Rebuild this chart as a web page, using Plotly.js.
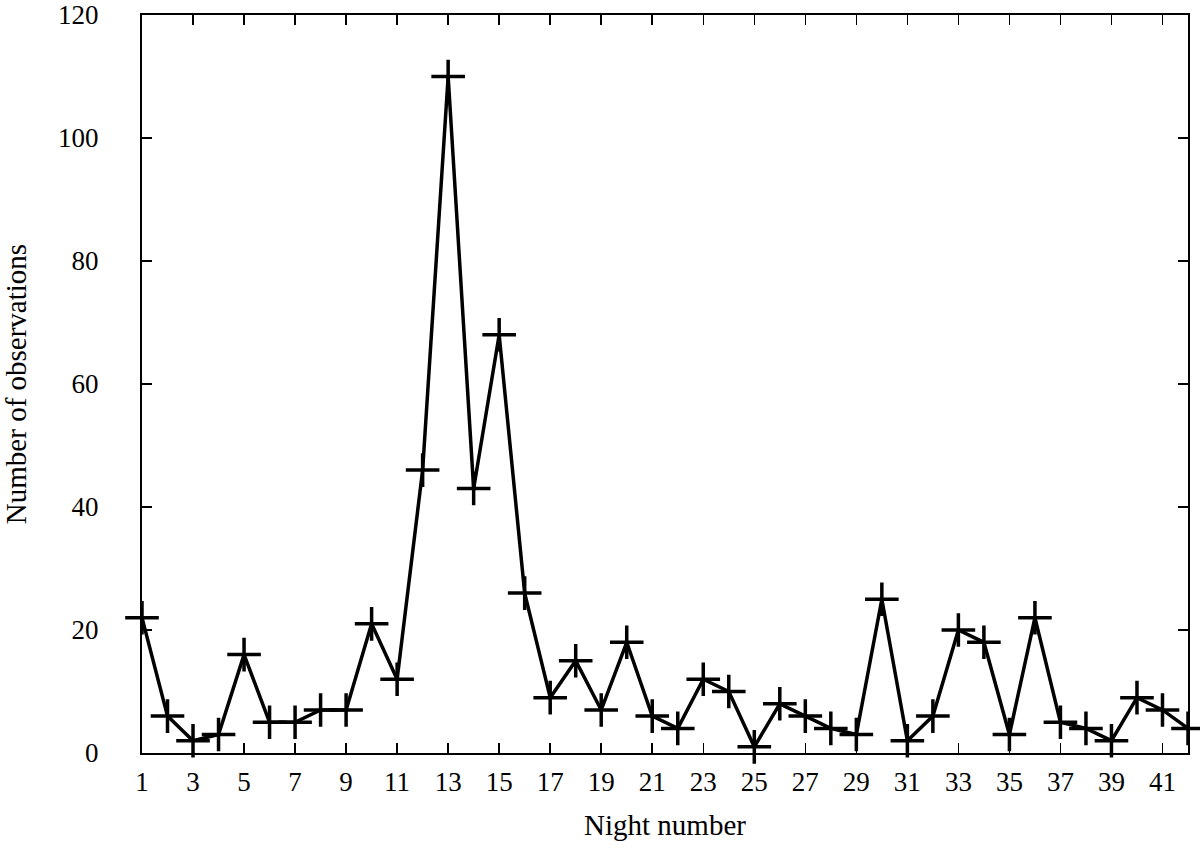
<!DOCTYPE html>
<html>
<head>
<meta charset="utf-8">
<script src="https://cdn.plot.ly/plotly-3.0.1.min.js"></script>
<style>body{margin:0;background:#fff;} #chart{width:1200px;height:852px;}</style>
</head>
<body>
<div id="chart"></div>
<script>
const nights = [1,2,3,4,5,6,7,8,9,10,11,12,13,14,15,16,17,18,19,20,21,22,23,24,25,26,27,28,29,30,31,32,33,34,35,36,37,38,39,40,41,42];
const observations = [22,6,2,3,16,5,5,7,7,21,12,46,110,43,68,26,9,15,7,18,6,4,12,10,1,8,6,4,3,25,2,6,20,18,3,22,5,4,2,9,7,4];
const xTicks = [1,3,5,7,9,11,13,15,17,19,21,23,25,27,29,31,33,35,37,39,41];
const yTicks = [0,20,40,60,80,100,120];

const fam = '"Liberation Serif", "Times New Roman", serif';
const tickFont = {family: fam, size: 27, color: '#000'};
const titleFont = {family: fam, size: 29, color: '#000'};

Plotly.newPlot('chart', [{
  x: nights, y: observations, type: 'scatter', mode: 'lines+markers',
  line: {color: '#000', width: 3.5},
  marker: {symbol: 'cross-thin-open', size: 24, color: '#000', line: {color: '#000', width: 3.5}},
  cliponaxis: false
}], {
  width: 1200, height: 852,
  margin: {l: 142, r: 12, t: 15, b: 99},
  paper_bgcolor: '#fff', plot_bgcolor: '#fff',
  font: tickFont,
  showlegend: false,
  xaxis: {
    range: [1, 42], tickvals: xTicks, ticktext: xTicks.map(String),
    ticks: 'inside', ticklen: 10, tickwidth: 1.5, tickcolor: '#000',
    showline: true, linecolor: '#000', linewidth: 2, mirror: 'ticks',
    showgrid: false, zeroline: false, ticklabelstandoff: 4,
    tickfont: tickFont,
    title: {text: 'Night number', font: titleFont, standoff: 18}
  },
  yaxis: {
    range: [0, 120], tickvals: yTicks, ticktext: yTicks.map(String),
    ticks: 'inside', ticklen: 10, tickwidth: 1.5, tickcolor: '#000',
    showline: true, linecolor: '#000', linewidth: 2, mirror: 'ticks',
    showgrid: false, zeroline: false, ticklabelstandoff: 36,
    tickfont: tickFont,
    title: {text: 'Number of observations', font: titleFont, standoff: 30}
  }
}, {displayModeBar: false, staticPlot: true});
</script>
</body>
</html>
